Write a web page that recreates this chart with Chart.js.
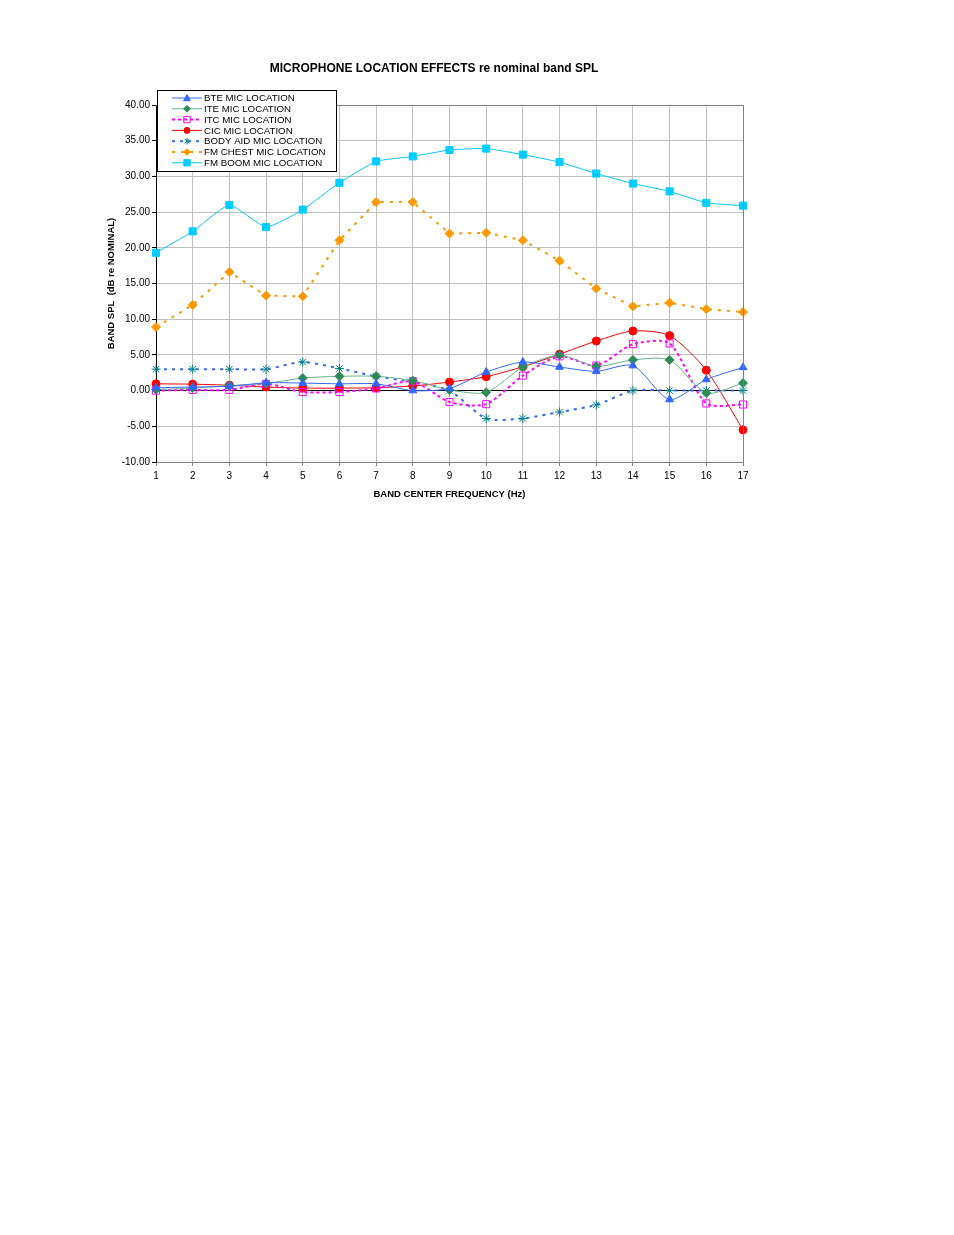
<!DOCTYPE html>
<html>
<head>
<meta charset="utf-8">
<script src="https://cdn.jsdelivr.net/npm/chart.js@4/dist/chart.umd.min.js"></script>
<style>
  body { margin: 0; background: #fff; }
  #wrap { position: absolute; left: 0; top: 0; width: 954px; height: 520px; }
</style>
</head>
<body>
<div id="wrap"><canvas id="chart" width="954" height="520"></canvas></div>
<script>
// band numbers on the x axis
const bands = ['1','2','3','4','5','6','7','8','9','10','11','12','13','14','15','16','17'];

// series values (dB re nominal)
const bte     = [0.4, 0.5, 0.6, 1.1, 1.05, 0.95, 0.95, 0.0, 0.3, 2.6, 4.0, 3.3, 2.7, 3.5, -1.25, 1.55, 3.25];
const ite     = [0.15, 0.35, 0.7, 1.0, 1.75, 2.0, 2.0, 1.4, 0.1, -0.25, 3.3, 4.95, 3.4, 4.3, 4.3, -0.35, 1.05];
const itc     = [0.0, 0.1, 0.1, 0.95, -0.2, -0.2, 0.3, 1.3, -1.6, -1.9, 2.1, 4.8, 3.5, 6.5, 6.6, -1.8, -1.95];
const cic     = [0.95, 0.9, 0.75, 0.5, 0.35, 0.35, 0.4, 0.65, 1.2, 1.95, 3.35, 5.1, 6.95, 8.35, 7.7, 2.85, -5.5];
const bodyAid = [3.0, 3.0, 3.0, 3.0, 4.0, 3.1, 2.0, 1.2, 0.0, -3.9, -3.9, -3.0, -2.0, 0.0, 0.0, 0.0, 0.0];
const fmChest = [8.9, 12.0, 16.6, 13.3, 13.2, 21.05, 26.4, 26.4, 22.0, 22.1, 21.05, 18.2, 14.3, 11.8, 12.3, 11.4, 11.0];
const fmBoom  = [19.3, 22.3, 26.0, 22.9, 25.35, 29.1, 32.1, 32.8, 33.7, 33.9, 33.05, 32.0, 30.4, 29.0, 27.9, 26.3, 25.9];

const FONT = '"Liberation Sans", Arial, sans-serif';

// small helper to draw a marker in the legend box
function drawMarker(ctx, ds, x, y) {
    const r = ds.pointRadius * 0.75;
    ctx.save();
    ctx.fillStyle = ds.pointBackgroundColor;
    ctx.strokeStyle = ds.pointBorderColor;
    ctx.lineWidth = ds.pointBorderWidth || 1;
    ctx.setLineDash([]);
    ctx.beginPath();
    switch (ds.pointStyle) {
        case 'triangle':
            ctx.moveTo(x, y - r);
            ctx.lineTo(x + r, y + r * 0.8);
            ctx.lineTo(x - r, y + r * 0.8);
            ctx.closePath();
            ctx.fill(); ctx.stroke();
            break;
        case 'rectRot':
            ctx.moveTo(x, y - r); ctx.lineTo(x + r, y); ctx.lineTo(x, y + r); ctx.lineTo(x - r, y);
            ctx.closePath();
            ctx.fill(); ctx.stroke();
            break;
        case 'rect':
            ctx.rect(x - r * 0.85, y - r * 0.85, r * 1.7, r * 1.7);
            ctx.fill(); ctx.stroke();
            break;
        case 'circle':
            ctx.arc(x, y, r, 0, Math.PI * 2);
            ctx.fill(); ctx.stroke();
            break;
        case 'star':
            ctx.moveTo(x - r * 0.7, y - r * 0.7); ctx.lineTo(x + r * 0.7, y + r * 0.7);
            ctx.moveTo(x + r * 0.7, y - r * 0.7); ctx.lineTo(x - r * 0.7, y + r * 0.7);
            ctx.moveTo(x, y - r); ctx.lineTo(x, y + r);
            ctx.stroke();
            break;
    }
    ctx.restore();
}

// title, axis titles and the boxed legend in the corner
const decor = {
    id: 'decor',
    afterDraw(chart) {
        const ctx = chart.ctx;
        const area = chart.chartArea;
        ctx.save();
        ctx.fillStyle = '#000';
        ctx.textAlign = 'center';
        ctx.textBaseline = 'middle';
        ctx.font = 'bold 12px ' + FONT;
        ctx.fillText('MICROPHONE LOCATION EFFECTS re nominal band SPL', 434, 69);

        ctx.font = 'bold 9.5px ' + FONT;
        ctx.fillText('BAND CENTER FREQUENCY (Hz)', (area.left + area.right) / 2, 494);

        ctx.save();
        ctx.translate(111, (area.top + area.bottom) / 2);
        ctx.rotate(-Math.PI / 2);
        ctx.fillText('BAND SPL  (dB re NOMINAL)', 0, 0);
        ctx.restore();

        // plot frame on top and right
        ctx.strokeStyle = '#808080';
        ctx.lineWidth = 1;
        ctx.beginPath();
        ctx.moveTo(area.left, area.top + 0.5);
        ctx.lineTo(area.right + 0.5, area.top + 0.5);
        ctx.lineTo(area.right + 0.5, area.bottom);
        ctx.stroke();

        // legend
        const bx = 157.5, by = 90.5, bw = 179, bh = 81;
        ctx.fillStyle = '#fff';
        ctx.fillRect(bx, by, bw, bh);
        ctx.strokeStyle = '#000';
        ctx.strokeRect(bx, by, bw, bh);
        ctx.textAlign = 'left';
        ctx.font = '9.7px ' + FONT;
        chart.data.datasets.forEach((ds, i) => {
            const y = 98 + i * 10.8;
            ctx.save();
            ctx.strokeStyle = ds.borderColor;
            ctx.lineWidth = ds.borderWidth;
            ctx.setLineDash(ds.borderDash || []);
            ctx.beginPath();
            ctx.moveTo(172, y);
            ctx.lineTo(202, y);
            ctx.stroke();
            ctx.restore();
            drawMarker(ctx, ds, 187, y);
            ctx.fillStyle = '#000';
            ctx.fillText(ds.label, 204, y + 0.5);
        });
        ctx.restore();
    }
};

const ctx = document.getElementById('chart').getContext('2d');

new Chart(ctx, {
    type: 'line',
    data: {
        labels: bands,
        datasets: [
            {
                label: 'BTE MIC LOCATION', data: bte,
                borderColor: '#3366ff', borderWidth: 1, tension: 0.25,
                pointStyle: 'triangle', pointRadius: 4.5,
                pointBackgroundColor: '#3366ff', pointBorderColor: '#3366ff', pointBorderWidth: 1
            },
            {
                label: 'ITE MIC LOCATION', data: ite,
                borderColor: '#66b38c', borderWidth: 1, tension: 0.25,
                pointStyle: 'rectRot', pointRadius: 4.5,
                pointBackgroundColor: '#2e8b57', pointBorderColor: '#2e8b57', pointBorderWidth: 1
            },
            {
                label: 'ITC MIC LOCATION', data: itc,
                borderColor: '#ff00ff', borderWidth: 2, borderDash: [3, 3], tension: 0.25,
                pointStyle: 'rect', pointRadius: 5,
                pointBackgroundColor: 'rgba(255,255,255,0)', pointBorderColor: '#ff00ff', pointBorderWidth: 1
            },
            {
                label: 'CIC MIC LOCATION', data: cic,
                borderColor: '#ff0000', borderWidth: 1, tension: 0.25,
                pointStyle: 'circle', pointRadius: 4,
                pointBackgroundColor: '#ff0000', pointBorderColor: '#ff0000', pointBorderWidth: 1
            },
            {
                label: 'BODY AID MIC LOCATION', data: bodyAid,
                borderColor: '#3366ff', borderWidth: 2, borderDash: [3, 5], tension: 0.25,
                pointStyle: 'star', pointRadius: 4.5,
                pointBackgroundColor: '#008080', pointBorderColor: '#008080', pointBorderWidth: 1
            },
            {
                label: 'FM CHEST MIC LOCATION', data: fmChest,
                borderColor: '#ff9900', borderWidth: 2, borderDash: [3, 6], tension: 0,
                pointStyle: 'rectRot', pointRadius: 4.5,
                pointBackgroundColor: '#ff9900', pointBorderColor: '#ff9900', pointBorderWidth: 1
            },
            {
                label: 'FM BOOM MIC LOCATION', data: fmBoom,
                borderColor: '#00ccff', borderWidth: 1, tension: 0.15,
                pointStyle: 'rect', pointRadius: 5,
                pointBackgroundColor: '#00ccff', pointBorderColor: '#00ccff', pointBorderWidth: 1
            }
        ]
    },
    options: {
        responsive: false,
        animation: false,
        layout: { padding: { left: 0, right: 211, top: 105, bottom: 0 } },
        plugins: {
            legend: { display: false },
            title: { display: false },
            tooltip: { enabled: false }
        },
        scales: {
            x: {
                offset: false,
                afterFit: (scale) => { scale.height = 58; },
                grid: { color: '#c0c0c0', tickLength: 4, tickColor: '#808080' },
                border: { color: '#808080' },
                ticks: { color: '#000', font: { family: FONT, size: 10 }, padding: 4, maxRotation: 0, autoSkip: false }
            },
            y: {
                min: -10, max: 40,
                afterFit: (scale) => { scale.width = 156; },
                grid: {
                    color: (c) => c.tick && c.tick.value === 0 ? '#000' : '#c0c0c0',
                    tickLength: 4, tickColor: '#000'
                },
                border: { color: '#000' },
                ticks: {
                    stepSize: 5, color: '#000', padding: 2,
                    font: { family: FONT, size: 10 },
                    callback: (v) => v.toFixed(2)
                }
            }
        }
    },
    plugins: [decor]
});
</script>
</body>
</html>
